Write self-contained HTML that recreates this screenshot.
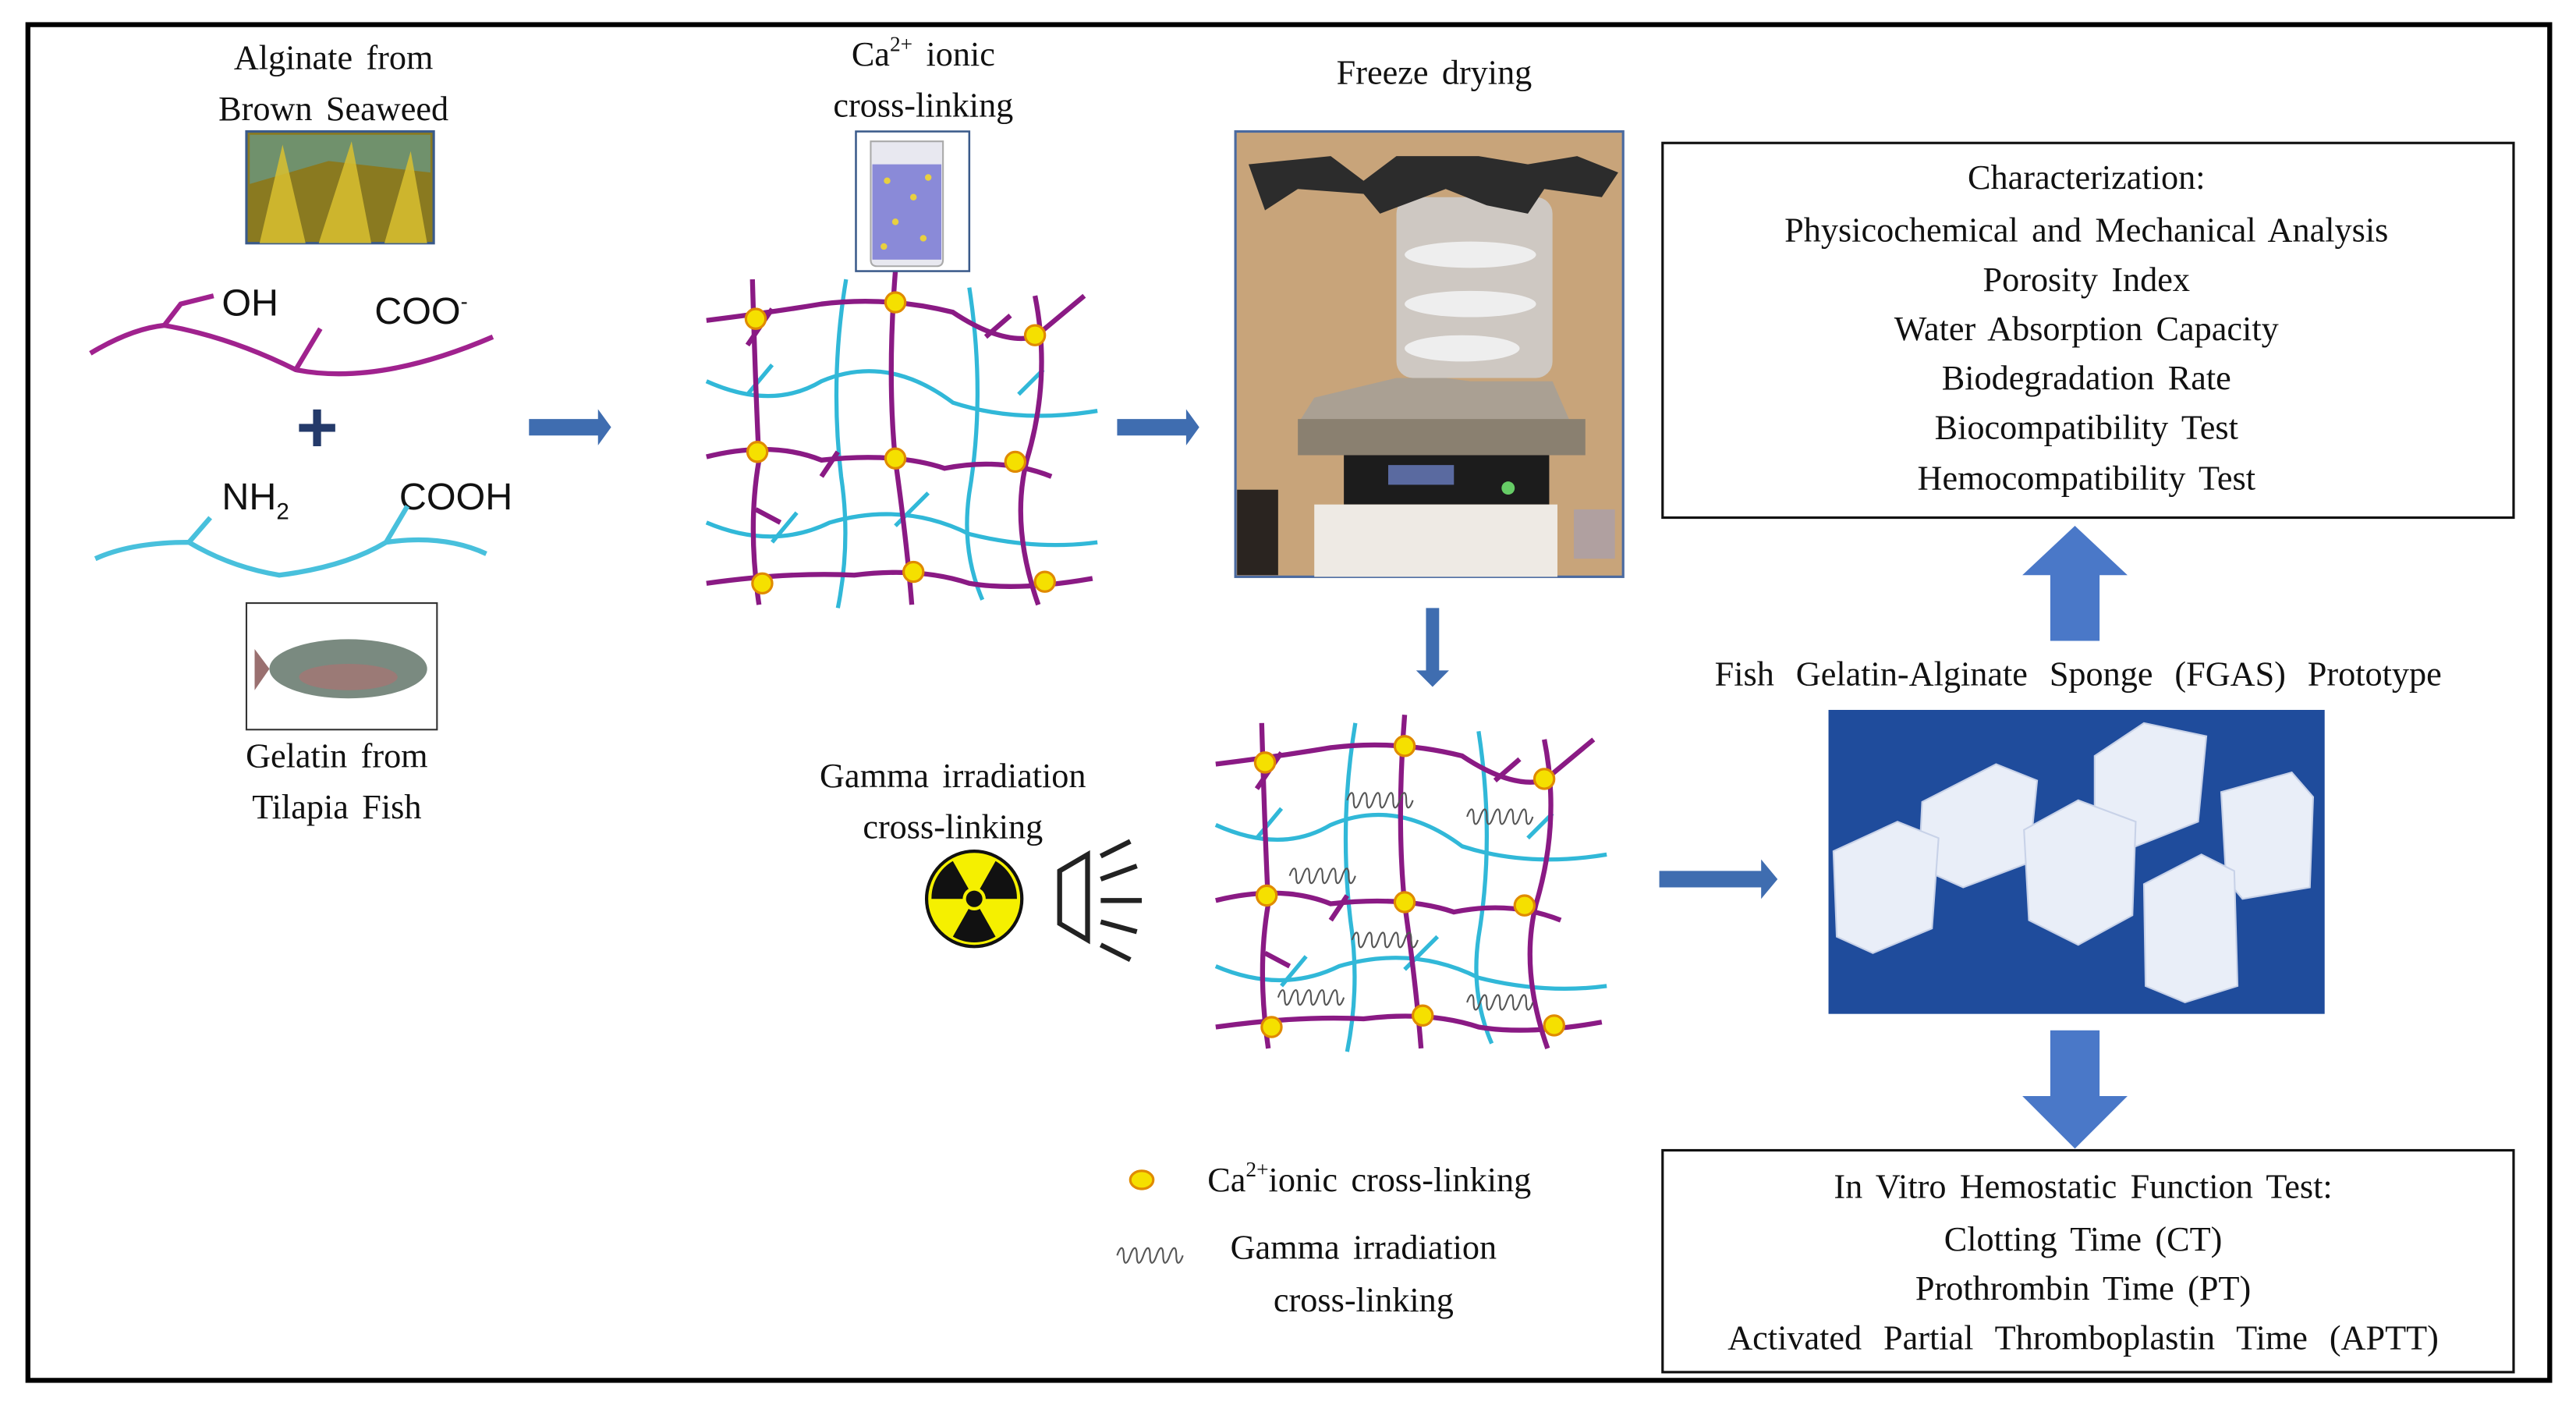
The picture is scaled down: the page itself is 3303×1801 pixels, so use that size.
<!DOCTYPE html>
<html><head><meta charset="utf-8"><style>
html,body{margin:0;padding:0;background:#fff}
svg{display:block}
.t{font-family:"Liberation Serif",serif;font-size:21px;fill:#111;text-anchor:middle;word-spacing:3px}
.s{font-family:"Liberation Sans",sans-serif;font-size:23px;fill:#111}
</style></head><body>
<svg width="3303" height="1801" viewBox="0 0 1568 855" preserveAspectRatio="none" xmlns="http://www.w3.org/2000/svg">
<defs>
<g id="net">
 <g fill="none" stroke="#31b8d8" stroke-width="2.5">
  <path d="M430 232 Q470 250 500 232 Q540 215 580 245 Q620 258 668 250"/>
  <path d="M430 318 Q470 335 505 318 Q550 305 590 325 Q630 335 668 330"/>
  <path d="M515 170 Q505 230 512 290 Q518 330 510 370"/>
  <path d="M590 175 Q600 240 590 300 Q585 335 598 365"/>
  <path d="M455 240 L470 222 M545 320 L565 300 M620 240 L635 225 M470 330 L485 312"/>
 </g>
 <g fill="none" stroke="#8a1a84" stroke-width="3">
  <path d="M430 195 Q470 190 500 185 Q540 180 580 190 Q610 210 630 205 L660 180"/>
  <path d="M430 278 Q470 268 500 280 Q545 275 575 285 Q610 278 640 290"/>
  <path d="M430 355 Q480 348 520 350 Q560 345 590 355 Q620 360 665 352"/>
  <path d="M458 170 Q460 240 462 280 Q455 320 462 368"/>
  <path d="M545 165 Q540 230 545 280 Q552 330 555 368"/>
  <path d="M630 180 Q640 230 625 280 Q615 320 632 368"/>
  <path d="M455 210 L470 188 M600 205 L615 192 M460 310 L475 318 M500 290 L510 275"/>
 </g>
 <g fill="#f5e000" stroke="#e08a00" stroke-width="1.5">
  <circle cx="460" cy="194" r="6"/><circle cx="545" cy="184" r="6"/><circle cx="630" cy="204" r="6"/>
  <circle cx="461" cy="275" r="6"/><circle cx="545" cy="279" r="6"/><circle cx="618" cy="281" r="6"/>
  <circle cx="464" cy="355" r="6"/><circle cx="556" cy="348" r="6"/><circle cx="636" cy="354" r="6"/>
 </g>
</g>
<g id="coil" fill="none" stroke="#555" stroke-width="1">
 <path d="M0 0 c2 -6 4 -6 4 0 c0 6 2 6 4 0 c2 -6 4 -6 4 0 c0 6 2 6 4 0 c2 -6 4 -6 4 0 c0 6 2 6 4 0 c2 -6 4 -6 4 0 c0 6 2 6 4 0 c2 -6 4 -6 4 0 c0 6 2 6 4 0"/>
</g>
</defs>

<rect x="17" y="15" width="1535" height="825" fill="none" stroke="#000" stroke-width="3"/>

<!-- left column -->
<text class="t" x="203" y="42">Alginate  from</text>
<text class="t" x="203" y="73">Brown Seaweed</text>
<rect x="150" y="80" width="114" height="68" fill="#8a7a20" stroke="#3a5a8a" stroke-width="1.5"/>
<path d="M152 82 L262 82 L262 105 L200 98 L152 112Z" fill="#5fa0a0" opacity=".6"/>
<path d="M158 148 L172 88 L186 148 M194 148 L214 86 L226 148 M234 148 L250 92 L260 148" fill="#d8c030" opacity=".85"/>
<g fill="none" stroke="#a0228e" stroke-width="3">
 <path d="M55 215 Q80 200 100 198 Q140 205 180 225 Q230 235 300 205"/>
 <path d="M100 198 L110 185 L130 180 M180 225 L195 200"/>
</g>
<text class="s" x="135" y="192">OH</text>
<text class="s" x="228" y="197">COO<tspan font-size="13" dy="-9">-</tspan></text>
<text x="193" y="275" font-family="Liberation Sans,sans-serif" font-size="44" font-weight="bold" fill="#243a6a" text-anchor="middle">+</text>
<text class="s" x="135" y="310">NH<tspan font-size="14" dy="6">2</tspan></text>
<text class="s" x="243" y="310">COOH</text>
<g fill="none" stroke="#48c0dc" stroke-width="3">
 <path d="M58 340 Q80 330 115 330 Q140 345 170 350 Q210 345 235 330 Q270 325 296 337"/>
 <path d="M115 330 L128 315 M235 330 L248 308"/>
</g>
<rect x="150" y="367" width="116" height="77" fill="#fff" stroke="#333" stroke-width="1"/>
<ellipse cx="212" cy="407" rx="48" ry="18" fill="#7a8a80"/>
<path d="M164 407 L155 395 L155 420Z" fill="#9a7070"/>
<ellipse cx="212" cy="412" rx="30" ry="8" fill="#b07070" opacity=".6"/>
<text class="t" x="205" y="467">Gelatin  from</text>
<text class="t" x="205" y="498">Tilapia  Fish</text>

<!-- arrows -->
<path d="M322 255 h42 v-6 l8 11 l-8 11 v-6 h-42z" fill="#3f6db0"/>
<path d="M680 255 h42 v-6 l8 11 l-8 11 v-6 h-42z" fill="#3f6db0"/>
<path d="M868 370 v38 h-6 l10 10 l10 -10 h-6 v-38z" fill="#3f6db0"/>
<path d="M1010 530 h62 v-7 l10 12 l-10 12 v-7 h-62z" fill="#3f6db0"/>
<path d="M1248 390 v-40 h-17 l32 -30 l32 30 h-17 v40z" fill="#4a78c8"/>
<path d="M1248 627 v40 h-17 l32 32 l32 -32 h-17 v-40z" fill="#4a78c8"/>

<!-- middle top -->
<text class="t" x="562" y="40">Ca<tspan font-size="13" dy="-9">2+</tspan><tspan dy="9"> ionic</tspan></text>
<text class="t" x="562" y="71">cross-linking</text>
<use href="#net"/>
<rect x="521" y="80" width="69" height="85" fill="#fff" stroke="#3a5a8a" stroke-width="1.2"/>
<path d="M530 86 h44 v72 q0 4 -4 4 h-36 q-4 0 -4 -4z" fill="#e8e8f0" stroke="#aaa"/>
<rect x="531" y="100" width="42" height="58" fill="#8a8ad8"/>
<g fill="#e8d040"><circle cx="540" cy="110" r="2"/><circle cx="556" cy="120" r="2"/><circle cx="545" cy="135" r="2"/><circle cx="562" cy="145" r="2"/><circle cx="538" cy="150" r="2"/><circle cx="565" cy="108" r="2"/></g>

<!-- freeze dryer -->
<text class="t" x="873" y="51">Freeze drying</text>
<g>
 <rect x="752" y="80" width="236" height="271" fill="#c8a47a" stroke="#4a6aa0" stroke-width="1.5"/>
 <rect x="753" y="298" width="25" height="52" fill="#2a2420"/>
 <rect x="850" y="120" width="95" height="110" rx="10" fill="#cfcfcf" opacity=".85"/>
 <ellipse cx="895" cy="155" rx="40" ry="8" fill="#eee"/><ellipse cx="895" cy="185" rx="40" ry="8" fill="#eee"/><ellipse cx="890" cy="212" rx="35" ry="8" fill="#eee"/>
 <path d="M760 100 L810 95 L830 110 L850 95 L900 95 L930 100 L960 95 L985 105 L975 120 L940 115 L930 130 L905 125 L880 115 L840 130 L830 118 L790 115 L770 128Z" fill="#2c2c2c"/>
 <path d="M850 230 L880 230 L895 232 L945 232 L955 255 L790 258 L800 242Z" fill="#aaa093"/>
 <rect x="790" y="255" width="175" height="22" fill="#8a8070"/>
 <rect x="818" y="277" width="125" height="30" fill="#1c1c1c"/>
 <rect x="845" y="283" width="40" height="12" fill="#5a6aa0"/>
 <circle cx="918" cy="297" r="4" fill="#6c6"/>
 <rect x="800" y="307" width="148" height="44" fill="#eeeae4"/>
 <rect x="958" y="310" width="25" height="30" fill="#b0a0a0"/>
</g>

<!-- gamma -->
<text class="t" x="580" y="479">Gamma  irradiation</text>
<text class="t" x="580" y="510">cross-linking</text>
<circle cx="593" cy="547" r="29" fill="#f5f000" stroke="#111" stroke-width="2"/>
<g fill="#111">
 <path d="M593 547 L580 524 A26 26 0 0 0 567 547Z"/>
 <path d="M593 547 L606 524 A26 26 0 0 1 619 547Z"/>
 <path d="M593 547 L580 570 A26 26 0 0 0 606 570Z"/>
</g>
<circle cx="593" cy="547" r="7" fill="#f5f000"/>
<circle cx="593" cy="547" r="5" fill="#111"/>
<path d="M645 530 L662 520 L662 572 L645 562Z" fill="none" stroke="#222" stroke-width="3"/>
<g stroke="#222" stroke-width="3"><line x1="670" y1="521" x2="688" y2="512"/><line x1="670" y1="535" x2="692" y2="527"/><line x1="670" y1="548" x2="695" y2="548"/><line x1="670" y1="561" x2="692" y2="567"/><line x1="670" y1="575" x2="688" y2="584"/></g>

<use href="#net" transform="translate(310 270)"/>
<use href="#coil" transform="translate(820 487)"/>
<use href="#coil" transform="translate(893 497)"/>
<use href="#coil" transform="translate(785 533)"/>
<use href="#coil" transform="translate(823 572)"/>
<use href="#coil" transform="translate(778 607)"/>
<use href="#coil" transform="translate(893 610)"/>

<!-- legend -->
<ellipse cx="695" cy="718" rx="7" ry="5.5" fill="#f5e000" stroke="#e08a00" stroke-width="1.5"/>
<text class="t" x="735" y="725" style="text-anchor:start">Ca<tspan font-size="13" dy="-9">2+</tspan><tspan dy="9">ionic  cross-linking</tspan></text>
<use href="#coil" transform="translate(680 764)"/>
<text class="t" x="830" y="766">Gamma  irradiation</text>
<text class="t" x="830" y="798">cross-linking</text>

<!-- characterization box -->
<rect x="1012" y="87" width="518" height="228" fill="#fff" stroke="#111" stroke-width="1.5"/>
<text class="t" x="1270" y="115">Characterization:</text>
<text class="t" x="1270" y="147">Physicochemical  and  Mechanical  Analysis</text>
<text class="t" x="1270" y="177">Porosity  Index</text>
<text class="t" x="1270" y="207">Water Absorption  Capacity</text>
<text class="t" x="1270" y="237">Biodegradation  Rate</text>
<text class="t" x="1270" y="267">Biocompatibility  Test</text>
<text class="t" x="1270" y="298">Hemocompatibility  Test</text>

<text class="t" x="1265" y="417" style="word-spacing:8px">Fish Gelatin-Alginate  Sponge  (FGAS)  Prototype</text>

<!-- sponge photo -->
<rect x="1113" y="432" width="302" height="185" fill="#1f4c9c"/>
<g fill="#e9eef8" stroke="#c8d2e8" stroke-width="1">
 <path d="M1170 488 L1215 465 L1240 475 L1235 525 L1195 540 L1168 528Z"/>
 <path d="M1275 460 L1305 440 L1343 448 L1338 500 L1300 515 L1275 505Z"/>
 <path d="M1352 482 L1395 470 L1408 485 L1406 540 L1365 547 L1355 535Z"/>
 <path d="M1116 518 L1155 500 L1180 510 L1176 565 L1140 580 L1118 570Z"/>
 <path d="M1232 505 L1265 487 L1300 500 L1298 557 L1265 575 L1235 560Z"/>
 <path d="M1305 538 L1340 520 L1360 530 L1362 600 L1330 610 L1306 600Z"/>
</g>

<!-- hemostatic box -->
<rect x="1012" y="700" width="518" height="135" fill="#fff" stroke="#111" stroke-width="1.5"/>
<text class="t" x="1268" y="729">In Vitro  Hemostatic  Function  Test:</text>
<text class="t" x="1268" y="761">Clotting  Time  (CT)</text>
<text class="t" x="1268" y="791">Prothrombin  Time  (PT)</text>
<text class="t" x="1268" y="821" style="word-spacing:8px">Activated  Partial  Thromboplastin  Time  (APTT)</text>
</svg>
</body></html>
